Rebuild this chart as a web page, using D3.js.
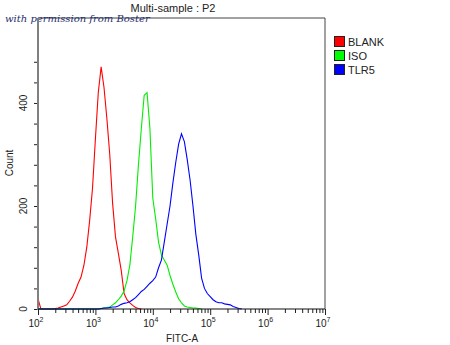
<!DOCTYPE html>
<html><head><meta charset="utf-8">
<script src="https://cdn.jsdelivr.net/npm/d3@7/dist/d3.min.js"></script>
<style>body{margin:0;background:#fff}svg{display:block}text{font-family:"Liberation Sans",Arial,sans-serif}</style>
</head><body><svg id="c" width="450" height="345"></svg>
<script>
// log10 bin centres (FITC-A)
const logBins = d3.range(0, 91).map(i => +(2 + i * 0.05).toFixed(2));
const seriesNames = ["BLANK", "ISO", "TLR5"];
const seriesColors = ["#ff0000", "#00ee00", "#0000ff"];
// counts, bin 2.00 .. 6.50 step 0.05
const blankCounts = [20,0,0,0,0,0,1,2,4,6,8,15,23,35,50,62,85,120,172,235,330,420,470,430,370,300,205,140,108,75,30,18,12,7,3,1,0];
const isoCounts = [0,0,0,0,0,0,0,0,0,0,0,0,0,0,0,0,0,0,0,0,0,0,1,2,3,4,8,12,18,25,35,55,85,140,200,280,350,415,420,350,215,175,130,105,95,85,65,48,33,20,12,6,4,3,2,2,1,0];
const tlr5Counts = [0,0,0,0,0,0,0,0,0,0,0,0,0,0,0,0,0,0,0,0,0,0,1,2,2,3,4,4,6,9,11,12,14,18,22,28,34,38,44,50,55,62,80,95,130,165,200,245,285,320,340,325,290,250,200,145,105,60,40,30,24,18,14,12,12,10,9,8,5,3,1,0];
const yTicksMajor = [0, 200, 400];
const yTicksMinor = d3.range(0, 481, 40);
const xDecades = [2, 3, 4, 5, 6, 7];

const svg = d3.select("#c");
const L = 38, R = 325, T = 18, B = 309;
const x = d3.scaleLog().domain([1e2, 1e7]).range([L, R]);
const y = d3.scaleLinear().domain([0, 565]).range([B, T]);

// title
svg.append("text").attr("x", 173).attr("y", 12).attr("text-anchor", "middle")
  .style("font-size", "11px").attr("fill", "#222").text("Multi-sample : P2");

// frame
svg.append("path").attr("d", `M${L},${T}H${R}V${B}`).attr("fill", "none").attr("stroke", "#444").attr("stroke-width", 1);

// watermark
svg.append("text").attr("x", 5).attr("y", 21.5).attr("fill", "#1d2b6b")
  .style("font-family", "'DejaVu Serif',serif").style("font-style", "italic").style("font-size", "10px")
  .text("with permission from Boster");

// curves
const all = [blankCounts, isoCounts, tlr5Counts];
const line = d3.line().x(d => x(Math.pow(10, d[0]))).y(d => y(d[1]));
all.forEach((arr, i) => {
  const pts = arr.map((v, j) => [logBins[j], v]);
  svg.append("path").attr("d", line(pts)).attr("fill", "none")
    .attr("stroke", seriesColors[i]).attr("stroke-width", 1.1);
});

// y axis
const gy = svg.append("g").attr("transform", `translate(${L},0)`);
gy.call(d3.axisLeft(y).tickValues(yTicksMinor).tickSize(4).tickFormat(""));
gy.select(".domain").remove();
gy.selectAll(".tick line").attr("stroke", "#222");
svg.append("line").attr("x1", L).attr("x2", L).attr("y1", T).attr("y2", B + 1).attr("stroke", "#808080").attr("stroke-width", 2);
yTicksMajor.forEach(v => {
  svg.append("text").attr("transform", `translate(27,${y(v)}) rotate(-90)`).attr("text-anchor", "middle")
    .style("font-size", "10px").attr("fill", "#222").text(v);
});
svg.append("text").attr("transform", `translate(13,163) rotate(-90)`).attr("text-anchor", "middle")
  .style("font-size", "10px").attr("fill", "#222").text("Count");

// x axis
const minorX = [];
xDecades.slice(0, -1).forEach(d => { for (let k = 2; k <= 9; k++) minorX.push(k * Math.pow(10, d)); });
const gx = svg.append("g").attr("transform", `translate(0,${B})`);
gx.call(d3.axisBottom(x).tickValues(minorX).tickSize(4).tickFormat(""));
gx.select(".domain").remove();
gx.selectAll(".tick line").attr("stroke", "#222");
const gx2 = svg.append("g").attr("transform", `translate(0,${B})`);
gx2.call(d3.axisBottom(x).tickValues(xDecades.map(d => Math.pow(10, d))).tickSize(6).tickFormat(""));
gx2.select(".domain").remove();
gx2.selectAll(".tick line").attr("stroke", "#222");
svg.append("line").attr("x1", L).attr("x2", R).attr("y1", B).attr("y2", B).attr("stroke", "#111").attr("stroke-width", 1.2);
xDecades.forEach(d => {
  const t = svg.append("text").attr("x", x(Math.pow(10, d)) - 2).attr("y", 327).attr("text-anchor", "middle")
    .style("font-size", "10px").attr("fill", "#222");
  t.append("tspan").text("10");
  t.append("tspan").attr("dy", -5).style("font-size", "7px").text(d);
});
svg.append("text").attr("x", 182).attr("y", 342).attr("text-anchor", "middle")
  .style("font-size", "10px").attr("fill", "#222").text("FITC-A");

// legend
seriesNames.forEach((n, i) => {
  svg.append("rect").attr("x", 334.5).attr("y", 36.5 + i * 14).attr("width", 10).attr("height", 10)
    .attr("fill", seriesColors[i] === "#00ee00" ? "#00ff00" : seriesColors[i]).attr("stroke", "#222");
  svg.append("text").attr("x", 348).attr("y", 46 + i * 14).style("font-size", "11px").attr("fill", "#222").text(n);
});
</script></body></html>
